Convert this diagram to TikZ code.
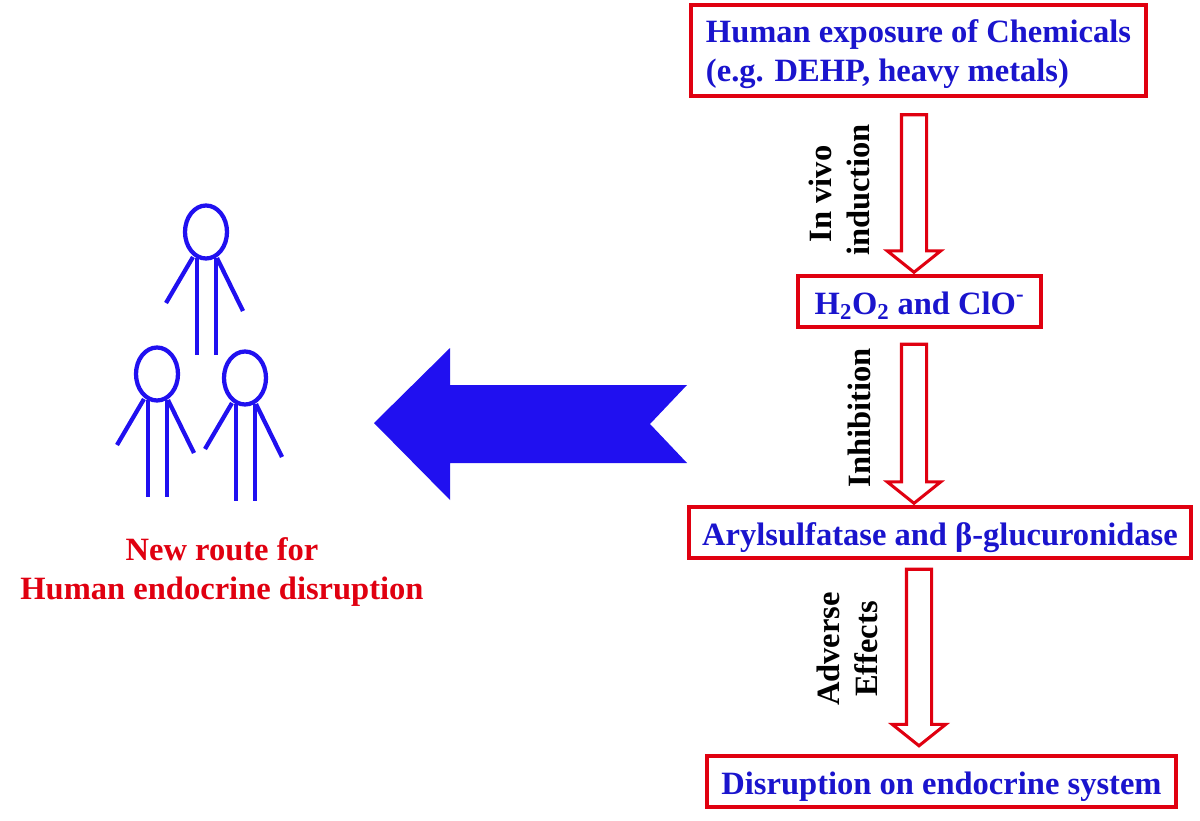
\documentclass[tikz,border=0pt]{standalone}
\usepackage{fontspec}
\setmainfont{Liberation Serif}
\usetikzlibrary{calc}

\definecolor{boxred}{RGB}{224,0,16}
\definecolor{textblue}{RGB}{26,20,205}
\definecolor{fillblue}{RGB}{32,16,240}

\newcommand{\blockarrow}[2]{%
  \draw[hollow] let \p1=(#1), \p2=(#2) in
    (\x1-9.4pt,\y1) -- (\x1+9.4pt,\y1) -- (\x1+9.4pt,\y2+16pt) -- (\x1+20pt,\y2+16pt)
    -- (\x1,\y2) -- (\x1-20pt,\y2+16pt) -- (\x1-9.4pt,\y2+16pt) -- cycle;}

\begin{document}
\begin{tikzpicture}[
    x=0.75pt, y=-0.75pt,
    stepbox/.style={rectangle, draw=boxred, line width=2.6pt, text=textblue, font=\fontsize{24.4}{29.2}\selectfont\bfseries, inner sep=0pt, text depth=0pt},
    hollow/.style={draw=boxred, line width=2.3pt, miter limit=10},
    sidelabel/.style={rotate=90, align=center, font=\fontsize{24.4}{28.5}\selectfont\bfseries, inner sep=0pt},
    routelabel/.style={align=center, text=boxred, font=\fontsize{24.4}{29}\selectfont\bfseries, inner sep=0pt},
    person/.pic={
        \draw[draw=fillblue, line width=3.2pt] (0,0) ellipse [x radius=21, y radius=26.5];
        \draw[draw=fillblue, line width=3.2pt] (-9,26) -- (-9,123);
        \draw[draw=fillblue, line width=3.2pt] (10,26) -- (10,123);
        \draw[draw=fillblue, line width=3.2pt] (-13,25) -- (-40,71);
        \draw[draw=fillblue, line width=3.2pt] (11,26) -- (37,79);
    }
]
\useasboundingbox (0,0) rectangle (1200,821);

% Chain of boxes
\node[stepbox, minimum width=341.25pt, minimum height=68.25pt, align=left] (chemicals) at (918.5,50.5) {Human exposure of Chemicals\\(e.g. DEHP, heavy metals)};
\node[stepbox, minimum width=182.25pt, minimum height=38.25pt, text height=18.8pt] (oxidants) at (919.5,301.5) {H\textsubscript{2}O\textsubscript{2} and ClO\textsuperscript{-}};
\node[stepbox, minimum width=376.5pt, minimum height=38.25pt, text height=18.8pt] (enzymes) at (940,532.5) {Arylsulfatase and β-glucuronidase};
\node[stepbox, minimum width=351.75pt, minimum height=38.25pt, text height=19.5pt] (disruption) at (941.5,781.5) {Disruption on endocrine system};

% Arrows between boxes
\blockarrow{$(chemicals.south)+(-4.5,17)$}{$(oxidants.north)+(0,-2)$}
\blockarrow{$(oxidants.south)+(-5.5,15.5)$}{$(enzymes.north)+(0,-2)$}
\blockarrow{$(enzymes.south)+(-21,9.5)$}{$(disruption.north)+(0,-8.5)$}

% Arrow labels
\node[sidelabel] (induction) at (839,190) {\mbox{In vivo\hspace{6pt}}\\induction};
\node[sidelabel] (inhibition) at (859,418) {Inhibition};
\node[sidelabel] (adverse) at (847,649) {Adverse\\Effects};

% Large arrow
\fill[fillblue] (374,423) -- (450,348) -- (450,385) -- (687,385) -- (650,424) -- (687,463) -- (450,463) -- (450,500) -- cycle;

% People
\pic (top) at (206,232) {person};
\pic (left) at (157,374) {person};
\pic (right) at (245,378) {person};

\node[routelabel] (route) at (222,572) {New route for\\Human endocrine disruption};

\end{tikzpicture}
\end{document}
